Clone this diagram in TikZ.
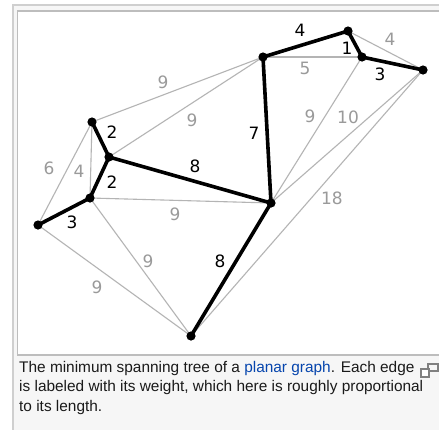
\documentclass[tikz,border=0pt]{standalone}
\usepackage{fontspec}
\setmainfont{Liberation Sans}
\newfontfamily\weightfont{DejaVu Sans}
\usepackage{tikz}

\definecolor{framegray}{HTML}{CFCFCF}
\definecolor{boxgray}{HTML}{BDBDBD}
\definecolor{pagegray}{HTML}{F6F6F6}
\definecolor{edgegray}{HTML}{B4B4B4}
\definecolor{labelgray}{HTML}{9A9A9A}
\definecolor{linkblue}{HTML}{0645AD}
\definecolor{captext}{HTML}{1A1A1A}

\begin{document}
\begin{tikzpicture}[x=1pt,y=-1pt,
    light/.style={edgegray, line width=1.1pt},
    tree/.style={black, line width=3.6pt, line cap=round},
    wlight/.style={labelgray, font=\weightfont\fontsize{17}{17}\selectfont, inner sep=0pt},
    wtree/.style={black, font=\weightfont\fontsize{17}{17}\selectfont, inner sep=0pt}]
\useasboundingbox (0,0) rectangle (439,429);

% thumbnail frame
\fill[pagegray] (13,5) rectangle (445,435);
\draw[framegray, line width=1.8pt] (445,5) -- (13,5) -- (13,435);
\draw[boxgray, fill=white, line width=1.5pt] (17.5,11) rectangle (450,355);

% vertices
\foreach \n/\x/\y in {a/92/122, b/109/157, c/90/198, d/38/225, e/263/57,
                      f/348/31, g/362/57, h/423/70, i/271/203, j/191/336}
    {\coordinate (\n) at (\x,\y);}

% edges not in the tree
\foreach \u/\v in {a/e, b/e, a/d, a/c, c/i, c/j, d/j, e/g, f/h, g/i, h/i, h/j}
    {\draw[light] (\u) -- (\v);}

% the spanning tree
\foreach \u/\v in {e/f, f/g, g/h, e/i, a/b, b/c, b/i, c/d, i/j}
    {\draw[tree] (\u) -- (\v);}

\foreach \n in {a,b,c,d,e,f,g,h,i,j}
    {\fill (\n) circle (4.6);}

% weights
\foreach \x/\y/\w [count=\k] in {163/82/9, 192/120/9, 49/168/6, 79/171/4,
        175/214/9, 148/261/9, 97/287/9, 305/68/5, 390/39/4, 310/116/9,
        348/117/10, 332/198/18}
    {\node[wlight] (wl\k) at (\x,\y) {\w};}
\foreach \x/\y/\w [count=\k] in {300/30/4, 347/48/1, 380/74/3, 254/133/7,
        112/132/2, 195/166/8, 112/182/2, 72/222/3, 220/261/8}
    {\node[wtree] (wt\k) at (\x,\y) {\w};}

% caption
\node[captext, anchor=north west, align=left, inner sep=0pt,
      font=\fontsize{15.4}{19.6}\selectfont] (caption) at (19,361)
    {The minimum spanning tree of a \textcolor{linkblue}{planar graph}. Each edge\\
     is labeled with its weight, which here is roughly proportional\\
     to its length.};

% enlarge icon
\draw[gray, line width=1.2pt] (428,364) rectangle (438,371);
\draw[gray, line width=1.2pt, fill=white] (421,369) rectangle (429,377);
\end{tikzpicture}
\end{document}
